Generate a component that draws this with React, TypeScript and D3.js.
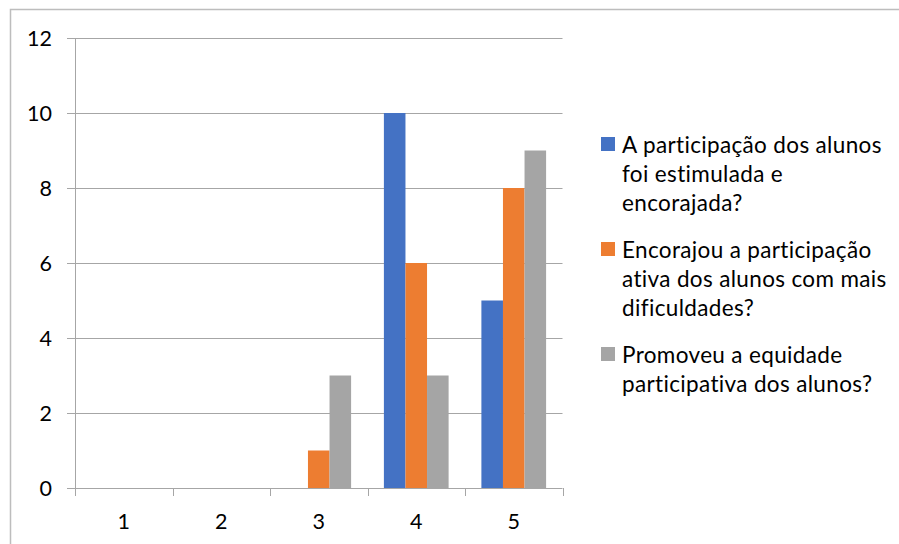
import React from "react";
import * as d3 from "d3";

// Categories (rating scale) and the three series
const categories = ["1", "2", "3", "4", "5"];
const seriesNames = [
  "A participação dos alunos foi estimulada e encorajada?",
  "Encorajou a participação ativa dos alunos com mais dificuldades?",
  "Promoveu a equidade participativa dos alunos?",
];
// Wrapped legend lines for each series
const legendLines = [
  ["A participação dos alunos", "foi estimulada e", "encorajada?"],
  ["Encorajou a participação", "ativa dos alunos com mais", "dificuldades?"],
  ["Promoveu a equidade", "participativa dos alunos?"],
];
const estimulada = [0, 0, 0, 10, 5];
const encorajou = [0, 0, 1, 6, 8];
const equidade = [0, 0, 3, 3, 9];
const yTicks = [0, 2, 4, 6, 8, 10, 12];
const colors = ["#4472C4", "#ED7D31", "#A5A5A5"];

const W = 899;
const H = 544;
const plot = { left: 75, right: 562.5, top: 38, bottom: 488 };
const FONT = "Lato, 'Open Sans', sans-serif";

export default function App() {
  const series = [estimulada, encorajou, equidade];

  const x = d3
    .scaleBand<string>()
    .domain(categories)
    .range([plot.left, plot.right])
    .paddingInner(0)
    .paddingOuter(0);

  const y = d3.scaleLinear().domain([0, 12]).range([plot.bottom, plot.top]);

  // Bars take 3 of (3 + gap) slots inside each category
  const gapRatio = 1.52;
  const barW = x.bandwidth() / (3 + gapRatio);
  const inner = d3
    .scaleBand<number>()
    .domain([0, 1, 2])
    .range([0, barW * 3])
    .padding(0);
  const groupOffset = (x.bandwidth() - barW * 3) / 2;

  const boundaries = categories.map((c) => x(c)!).concat([plot.right]);

  const legendX = 601;
  const legendTop = 137;
  const lineH = 29;
  const itemGap = 18;

  let cursor = legendTop;
  const legendItems = legendLines.map((lines, i) => {
    const top = cursor;
    cursor += lines.length * lineH + itemGap;
    return { lines, top, i };
  });

  return (
    <svg
      width={W}
      height={H}
      style={{
        position: "absolute",
        left: 0,
        top: 0,
        background: "#fff",
        fontVariantLigatures: "none",
      }}
      fontFamily={FONT}
    >
      <rect x={0} y={0} width={W} height={H} fill="#fff" />
      {/* chart frame */}
      <rect
        x={10.5}
        y={9.5}
        width={W + 20}
        height={H + 20}
        fill="none"
        stroke="#bdbdbd"
        strokeWidth={1.5}
      />

      {/* horizontal gridlines with tick stubs */}
      {yTicks.map((t) => (
        <g key={t}>
          <line
            x1={plot.left - 8}
            x2={plot.right}
            y1={Math.round(y(t)) + 0.5}
            y2={Math.round(y(t)) + 0.5}
            stroke="#a6a6a6"
            strokeWidth={1}
          />
          <text
            x={52}
            y={y(t)}
            dy="0.36em"
            textAnchor="end"
            fontSize={21.5}
            fill="#000"
          >
            {t}
          </text>
        </g>
      ))}

      {/* vertical axis */}
      <line
        x1={plot.left + 0.5}
        x2={plot.left + 0.5}
        y1={plot.top}
        y2={plot.bottom + 8}
        stroke="#a6a6a6"
      />

      {/* category boundary ticks */}
      {boundaries.map((b, i) => (
        <line
          key={i}
          x1={Math.round(b) + 0.5}
          x2={Math.round(b) + 0.5}
          y1={plot.bottom}
          y2={plot.bottom + 8}
          stroke="#a6a6a6"
        />
      ))}

      {/* bars */}
      {series.map((vals, si) =>
        vals.map((v, ci) =>
          v > 0 ? (
            <rect
              key={`${si}-${ci}`}
              x={x(categories[ci])! + groupOffset + inner(si)!}
              y={y(v)}
              width={inner.bandwidth()}
              height={y(0) - y(v)}
              fill={colors[si]}
            />
          ) : null
        )
      )}

      {/* category labels */}
      {categories.map((c) => (
        <text
          key={c}
          x={x(c)! + x.bandwidth() / 2}
          y={529}
          textAnchor="middle"
          fontSize={21.5}
          fill="#000"
        >
          {c}
        </text>
      ))}

      {/* legend */}
      {legendItems.map(({ lines, top, i }) => (
        <g key={i}>
          <title>{seriesNames[i]}</title>
          <rect x={legendX} y={top} width={14} height={14} fill={colors[i]} />
          {lines.map((ln, li) => (
            <text
              key={li}
              x={622}
              y={top + 16 + li * lineH}
              fontSize={22.5}
              letterSpacing={0.35}
              fill="#000"
            >
              {ln}
            </text>
          ))}
        </g>
      ))}
    </svg>
  );
}
